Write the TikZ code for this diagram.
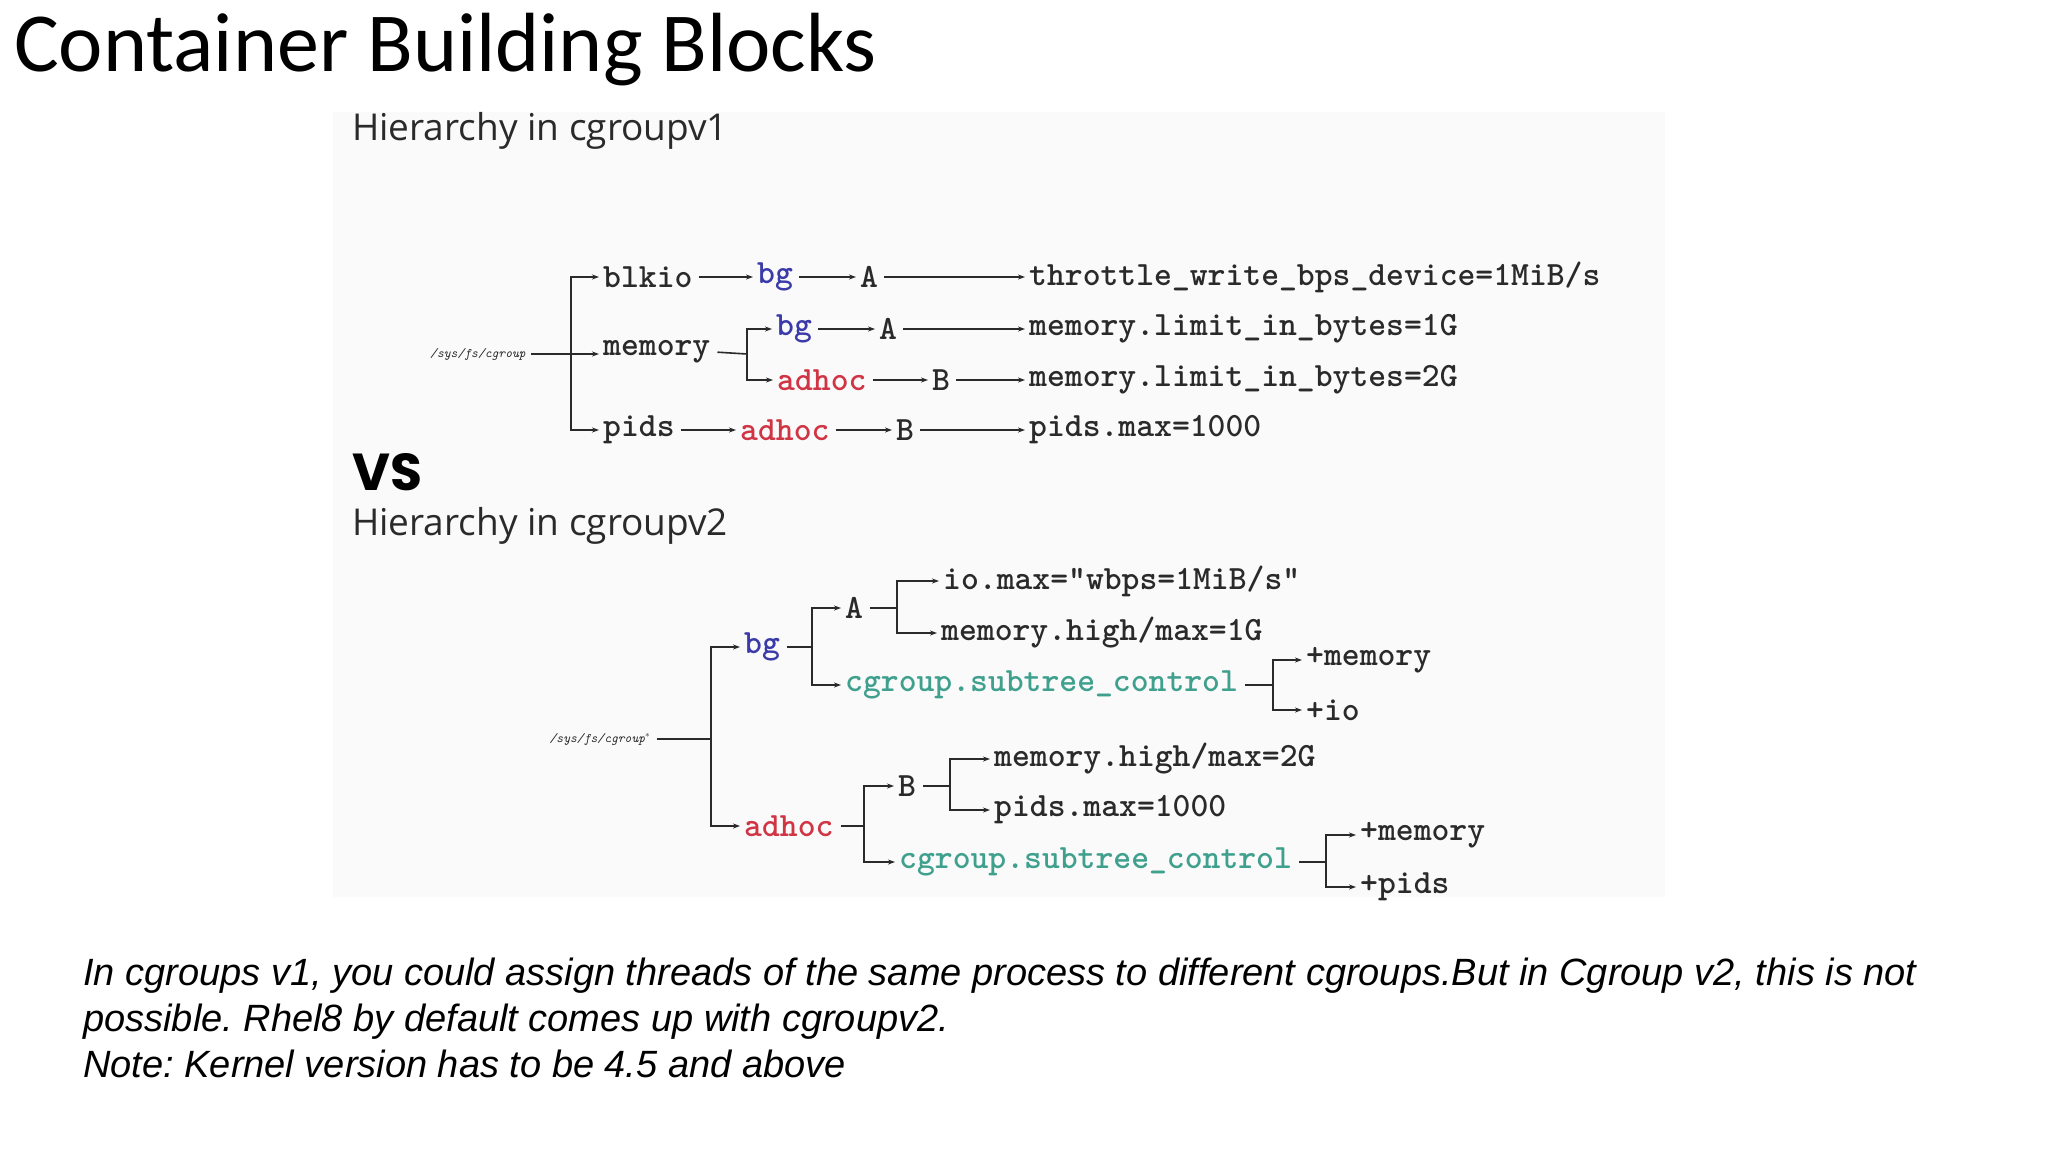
\documentclass[tikz,border=0pt]{standalone}
\usepackage{fontspec}
\setmainfont{Liberation Sans}
\newfontfamily\titlefont{Carlito}
\newfontfamily\hfont{Open Sans}
\newfontfamily\vsfont{Poppins}
\usetikzlibrary{arrows.meta}
\definecolor{cbg}{HTML}{3A3AA8}
\definecolor{cad}{HTML}{D03545}
\definecolor{csc}{HTML}{3FA08E}
\definecolor{ctx}{HTML}{2A2A2A}
\frenchspacing
\begin{document}
\begin{tikzpicture}[x=1pt,y=-1pt,
  t/.style={anchor=west,inner xsep=4pt,inner ysep=2pt,text=ctx,font=\fontsize{34}{34}\ttfamily\bfseries},
  sm/.style={anchor=center,inner sep=3pt,text=ctx,font=\fontsize{13}{13}\ttfamily\itshape},
  a/.style={draw=ctx,line width=1.6pt,shorten <=2pt,-{Stealth[length=7pt,width=5pt]}},
  l/.style={draw=ctx,line width=1.6pt,shorten <=3pt}]
\useasboundingbox (0,0) rectangle (2048,1152);
\fill[white] (0,0) rectangle (2048,1152);
\fill[gray!4] (333,112) rectangle (1665,897);
\node[anchor=west,inner sep=0] at (14,50) {\titlefont\fontsize{84}{84}\selectfont Container Building Blocks};
\node[anchor=west,inner sep=0,text=ctx] (h1) at (352,131) {\hfont\fontsize{37}{37}\selectfont Hierarchy in cgroupv1};
\node[anchor=west,inner sep=0,text=black] (vs) at (352,472) {\vsfont\bfseries\fontsize{52}{52}\selectfont VS};
\node[anchor=west,inner sep=0,text=ctx] (h2) at (352,526) {\hfont\fontsize{37}{37}\selectfont Hierarchy in cgroupv2};
% v1
\node[sm] (r1) at (478,354) {/sys/fs/cgroup};
\node[t] (blkio) at (599,277) {blkio};
\node[t] (mem) at (599,352) {memory};
\node[t] (pids) at (599,430) {pids};
\node[t,text=cbg] (bg1) at (753,277) {bg};
\node[t] (A1) at (856,277) {A};
\node[t] (thr) at (1025,277) {throttle\_write\_bps\_device=1MiB/s};
\node[t,text=cbg] (bg2) at (772,329) {bg};
\node[t] (A2) at (875,329) {A};
\node[t] (ml1) at (1025,329) {memory.limit\_in\_bytes=1G};
\node[t,text=cad] (ad1) at (773,380) {adhoc};
\node[t] (B1) at (928,380) {B};
\node[t] (ml2) at (1025,380) {memory.limit\_in\_bytes=2G};
\node[t,text=cad] (ad2) at (736,430) {adhoc};
\node[t] (B2) at (892,430) {B};
\node[t] (pm1) at (1025,430) {pids.max=1000};
\coordinate (j1) at (571,354);
\draw[a] (r1.east) -- (mem.west|-r1.east);
\draw[a,shorten <=0pt] (j1) |- (blkio.west);
\draw[a,shorten <=0pt] (j1) |- (pids.west);
\draw[a] (blkio) -- (bg1);
\draw[a] (bg1) -- (A1);
\draw[a] (A1) -- (thr);
\coordinate (j2) at (747,354);
\draw[l] (mem.east) -- (j2);
\draw[a,shorten <=0pt] (j2) |- (bg2.west);
\draw[a,shorten <=0pt] (j2) |- (ad1.west);
\draw[a] (bg2) -- (A2);
\draw[a] (A2) -- (ml1);
\draw[a] (ad1) -- (B1);
\draw[a] (B1) -- (ml2);
\draw[a] (pids) -- (ad2);
\draw[a] (ad2) -- (B2);
\draw[a] (B2) -- (pm1);
% v2
\node[sm] (r2) at (600,739) {/sys/fs/cgroup$^{*}$};
\node[t,text=cbg] (bg3) at (740,647) {bg};
\node[t,text=cad] (ad3) at (740,826) {adhoc};
\node[t] (A3) at (841,608) {A};
\node[t] (io) at (939,581) {io.max="wbps=1MiB/s"};
\node[t] (mh1) at (937,633) {memory.high/max=1G};
\node[t,text=csc] (sc1) at (841,685) {cgroup.subtree\_control};
\node[t] (pm2) at (1302,660) {+memory};
\node[t] (pio) at (1302,710) {+io};
\node[t] (B3) at (894,786) {B};
\node[t] (mh2) at (990,759) {memory.high/max=2G};
\node[t] (pm3) at (990,810) {pids.max=1000};
\node[t,text=csc] (sc2) at (895,862) {cgroup.subtree\_control};
\node[t] (pm4) at (1356,835) {+memory};
\node[t] (pp) at (1356,887) {+pids};
\coordinate (k0) at (711,739);
\draw[l] (r2.east) -- (k0);
\draw[a,shorten <=0pt] (k0) |- (bg3.west);
\draw[a,shorten <=0pt] (k0) |- (ad3.west);
\coordinate (k1) at (812,647);
\draw[l] (bg3.east) -- (k1);
\draw[a,shorten <=0pt] (k1) |- (A3.west);
\draw[a,shorten <=0pt] (k1) |- (sc1.west);
\coordinate (k2) at (897,608);
\draw[l] (A3.east) -- (k2);
\draw[a,shorten <=0pt] (k2) |- (io.west);
\draw[a,shorten <=0pt] (k2) |- (mh1.west);
\coordinate (k3) at (1273,685);
\draw[l] (sc1.east) -- (k3);
\draw[a,shorten <=0pt] (k3) |- (pm2.west);
\draw[a,shorten <=0pt] (k3) |- (pio.west);
\coordinate (k4) at (864,826);
\draw[l] (ad3.east) -- (k4);
\draw[a,shorten <=0pt] (k4) |- (B3.west);
\draw[a,shorten <=0pt] (k4) |- (sc2.west);
\coordinate (k5) at (950,786);
\draw[l] (B3.east) -- (k5);
\draw[a,shorten <=0pt] (k5) |- (mh2.west);
\draw[a,shorten <=0pt] (k5) |- (pm3.west);
\coordinate (k6) at (1326,862);
\draw[l] (sc2.east) -- (k6);
\draw[a,shorten <=0pt] (k6) |- (pm4.west);
\draw[a,shorten <=0pt] (k6) |- (pp.west);
% caption
\node[anchor=north west,inner sep=0,align=left,text=black,font=\fontsize{38}{46}\selectfont\itshape] (cap) at (83,958)
{In cgroups v1, you could assign threads of the same process to different cgroups.But in Cgroup v2, this is not\\
possible. Rhel8 by default comes up with cgroupv2.\\
Note: Kernel version has to be 4.5 and above};
\end{tikzpicture}
\end{document}
